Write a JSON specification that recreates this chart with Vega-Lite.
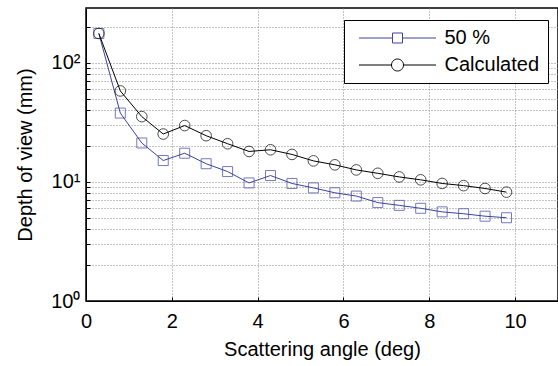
{
  "$schema": "https://vega.github.io/schema/vega-lite/v6.json",
  "width": 472,
  "height": 293,
  "autosize": {"type": "none"},
  "padding": {"left": 86, "top": 8, "right": 0, "bottom": 65},
  "background": "white",
  "config": {
    "font": "Liberation Sans",
    "view": {"stroke": "black", "strokeWidth": 1.5},
    "axis": {
      "domainColor": "black",
      "tickColor": "black",
      "labelColor": "black",
      "titleColor": "black",
      "gridColor": "#8a8a8a",
      "gridDash": [1, 2],
      "gridWidth": 1,
      "labelFontSize": 20,
      "titleFontSize": 20,
      "titleFontWeight": "normal",
      "labelFlush": false
    },
    "legend": {
      "strokeColor": "black",
      "fillColor": "white",
      "padding": 8,
      "labelFontSize": 20,
      "labelColor": "black",
      "labelFont": "Liberation Sans",
      "symbolOpacity": 1,
      "symbolStrokeWidth": 1,
      "rowPadding": 7
    }
  },
  "data": {
    "values": [
      {"angle": 0.3, "depth": 176, "series": "50 %"},
      {"angle": 0.8, "depth": 37.8, "series": "50 %"},
      {"angle": 1.3, "depth": 21.2, "series": "50 %"},
      {"angle": 1.8, "depth": 15.1, "series": "50 %"},
      {"angle": 2.3, "depth": 17.4, "series": "50 %"},
      {"angle": 2.8, "depth": 14.2, "series": "50 %"},
      {"angle": 3.3, "depth": 12.2, "series": "50 %"},
      {"angle": 3.8, "depth": 9.8, "series": "50 %"},
      {"angle": 4.3, "depth": 11.3, "series": "50 %"},
      {"angle": 4.8, "depth": 9.7, "series": "50 %"},
      {"angle": 5.3, "depth": 8.9, "series": "50 %"},
      {"angle": 5.8, "depth": 8.1, "series": "50 %"},
      {"angle": 6.3, "depth": 7.6, "series": "50 %"},
      {"angle": 6.8, "depth": 6.7, "series": "50 %"},
      {"angle": 7.3, "depth": 6.35, "series": "50 %"},
      {"angle": 7.8, "depth": 6.0, "series": "50 %"},
      {"angle": 8.3, "depth": 5.6, "series": "50 %"},
      {"angle": 8.8, "depth": 5.4, "series": "50 %"},
      {"angle": 9.3, "depth": 5.15, "series": "50 %"},
      {"angle": 9.8, "depth": 5.0, "series": "50 %"},
      {"angle": 0.3, "depth": 176, "series": "Calculated"},
      {"angle": 0.8, "depth": 58, "series": "Calculated"},
      {"angle": 1.3, "depth": 35.3, "series": "Calculated"},
      {"angle": 1.8, "depth": 25.2, "series": "Calculated"},
      {"angle": 2.3, "depth": 29.7, "series": "Calculated"},
      {"angle": 2.8, "depth": 24.4, "series": "Calculated"},
      {"angle": 3.3, "depth": 20.9, "series": "Calculated"},
      {"angle": 3.8, "depth": 18.0, "series": "Calculated"},
      {"angle": 4.3, "depth": 18.6, "series": "Calculated"},
      {"angle": 4.8, "depth": 17.0, "series": "Calculated"},
      {"angle": 5.3, "depth": 15.0, "series": "Calculated"},
      {"angle": 5.8, "depth": 13.9, "series": "Calculated"},
      {"angle": 6.3, "depth": 12.6, "series": "Calculated"},
      {"angle": 6.8, "depth": 11.8, "series": "Calculated"},
      {"angle": 7.3, "depth": 11.0, "series": "Calculated"},
      {"angle": 7.8, "depth": 10.4, "series": "Calculated"},
      {"angle": 8.3, "depth": 9.7, "series": "Calculated"},
      {"angle": 8.8, "depth": 9.3, "series": "Calculated"},
      {"angle": 9.3, "depth": 8.8, "series": "Calculated"},
      {"angle": 9.8, "depth": 8.2, "series": "Calculated"}
    ]
  },
  "encoding": {
    "x": {
      "field": "angle",
      "type": "quantitative",
      "scale": {"domain": [0, 11], "nice": false, "zero": false},
      "axis": {
        "title": "Scattering angle (deg)",
        "values": [0, 2, 4, 6, 8, 10],
        "grid": true,
        "tickSize": -4,
        "labelPadding": 14,
        "titlePadding": 8
      }
    },
    "y": {
      "field": "depth",
      "type": "quantitative",
      "scale": {"type": "log", "domain": [1, 288], "nice": false},
      "axis": {
        "title": "Depth of view (mm)",
        "values": [1, 2, 3, 4, 5, 6, 7, 8, 9, 10, 20, 30, 40, 50, 60, 70, 80, 90, 100, 200],
        "labelExpr": "datum.value == 1 ? '10⁰' : datum.value == 10 ? '10¹' : datum.value == 100 ? '10²' : ''",
        "grid": true,
        "tickSize": -4,
        "labelPadding": 10,
        "titlePadding": 15
      }
    }
  },
  "layer": [
    {
      "transform": [{"filter": "datum.series == '50 %'"}],
      "mark": {"type": "line", "strokeWidth": 1, "color": "#3c43a0"},
      "encoding": {}
    },
    {
      "transform": [{"filter": "datum.series == 'Calculated'"}],
      "mark": {"type": "line", "strokeWidth": 1, "color": "#000000"},
      "encoding": {}
    },
    {
      "transform": [{"filter": "datum.series == '50 %'"}],
      "mark": {"type": "point", "shape": "square", "filled": false, "strokeWidth": 1, "size": 100, "color": "#3c43a0"},
      "encoding": {}
    },
    {
      "transform": [{"filter": "datum.series == 'Calculated'"}],
      "mark": {"type": "point", "shape": "circle", "filled": false, "strokeWidth": 1, "size": 113, "color": "#000000"},
      "encoding": {}
    },
    {
      "mark": {"type": "point", "filled": false, "strokeWidth": 1, "opacity": 0, "size": 100},
      "encoding": {
        "color": {
          "field": "series",
          "type": "nominal",
          "scale": {"domain": ["50 %", "Calculated"], "range": ["#3c43a0", "#000000"]},
          "legend": {
            "title": null,
            "orient": "none",
            "legendX": 258,
            "legendY": 12,
            "symbolOffset": 35.5,
            "labelOffset": 37,
            "symbolOpacity": 1
          }
        },
        "shape": {
          "field": "series",
          "type": "nominal",
          "scale": {
            "domain": ["50 %", "Calculated"],
            "range": [
              "M-7.7,0H-1M1,0H7.7M-1,-1H1V1H-1Z",
              "M-7.7,0H-1.2M1.2,0H7.7M1.2,0A1.2,1.2,0,1,1,-1.2,0A1.2,1.2,0,1,1,1.2,0Z"
            ]
          },
          "legend": {
            "title": null,
            "orient": "none",
            "legendX": 258,
            "legendY": 12,
            "symbolOffset": 35.5,
            "labelOffset": 37,
            "symbolOpacity": 1
          }
        }
      }
    }
  ]
}
